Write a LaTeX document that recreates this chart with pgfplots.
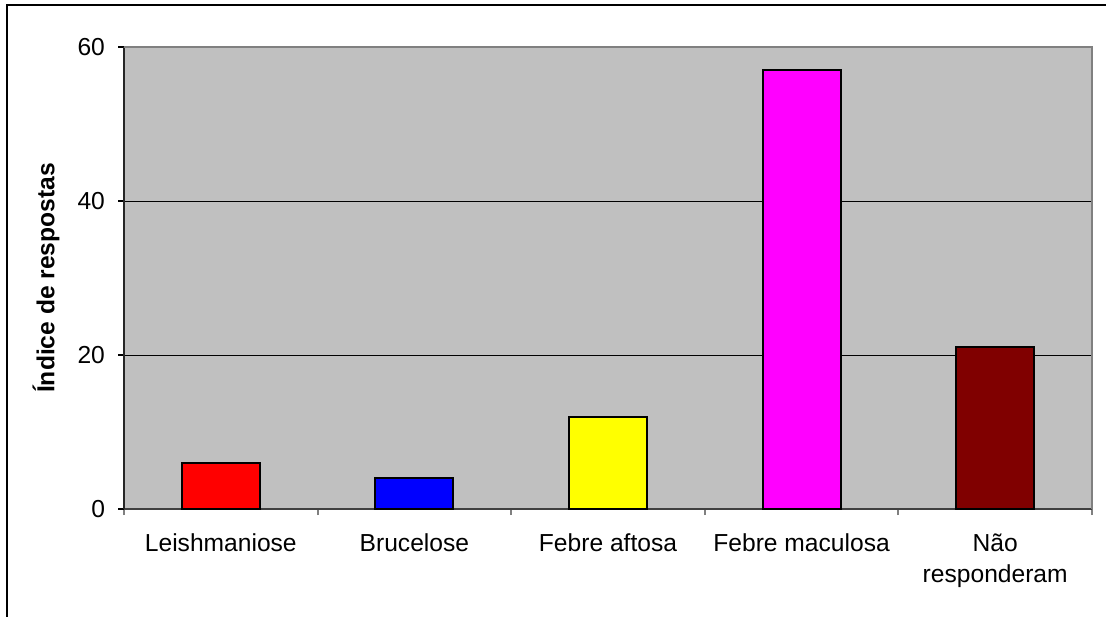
\documentclass[border=0pt]{standalone}
\usepackage{pgfplots}
\pgfplotsset{compat=1.18}
\usepackage{fontspec}
\setmainfont{Liberation Sans}
\definecolor{plotgray}{HTML}{C0C0C0}
\definecolor{bordergray}{HTML}{808080}
\definecolor{darkred}{HTML}{800000}
\definecolor{pred}{HTML}{FF0000}
\definecolor{pblue}{HTML}{0000FF}
\definecolor{pyellow}{HTML}{FFFF00}
\definecolor{pmagenta}{HTML}{FF00FF}
\begin{document}
\begin{tikzpicture}
\useasboundingbox (0,0) rectangle (553pt,308pt);
\draw[line width=1pt] (3.6pt,-2pt) -- (3.6pt,305.5pt) -- (556pt,305.5pt);
\begin{axis}[
 at={(62pt,53.5pt)}, anchor=south west,
 width=484pt, height=231pt, scale only axis,
 xmin=-0.5, xmax=4.5, ymin=0, ymax=60,
 ytick={0,20,40,60},
 xtick={0,1,2,3,4},
 xticklabels={Leishmaniose,Brucelose,Febre aftosa,Febre maculosa,{Não\\responderam}},
 minor xtick={-0.5,0.5,1.5,2.5,3.5,4.5},
 tick align=outside,
 major tick length=3pt, minor tick length=3pt,
 major x tick style={draw=none},
 minor x tick style={draw=bordergray, line width=1pt},
 major y tick style={draw=black, line width=0.6pt},
 ymajorgrids, grid style={black, line width=0.5pt},
 axis x line*=bottom, axis y line*=left,
 x axis line style={-, draw=black!75, line width=1pt},
 y axis line style={-, draw=black!85, line width=0.7pt},
 axis background/.style={fill=plotgray},
 /pgf/number format/assume math mode=true,
 ticklabel style={font=\fontsize{12.3}{15.5}\selectfont},
 xticklabel style={align=center, yshift=-6pt},
 yticklabel style={xshift=-3pt},
 every axis y label/.style={at={(rel axis cs:0,0.5)}, xshift=-39pt, rotate=90, anchor=center},
 ylabel={\bfseries Índice de respostas},
 label style={font=\fontsize{12.3}{15}\selectfont},
 after end axis/.code={\draw[bordergray, line width=1pt] (rel axis cs:0,1) -- (rel axis cs:1,1) -- (rel axis cs:1,0);},
]
\addplot[ybar, bar width=39pt, bar shift=0pt, fill=pred, draw=black, line width=1pt] coordinates {(0,6)};
\addplot[ybar, bar width=39pt, bar shift=0pt, fill=pblue, draw=black, line width=1pt] coordinates {(1,4)};
\addplot[ybar, bar width=39pt, bar shift=0pt, fill=pyellow, draw=black, line width=1pt] coordinates {(2,12)};
\addplot[ybar, bar width=39pt, bar shift=0pt, fill=pmagenta, draw=black, line width=1pt] coordinates {(3,57)};
\addplot[ybar, bar width=39pt, bar shift=0pt, fill=darkred, draw=black, line width=1pt] coordinates {(4,21)};
\end{axis}
\end{tikzpicture}
\end{document}
